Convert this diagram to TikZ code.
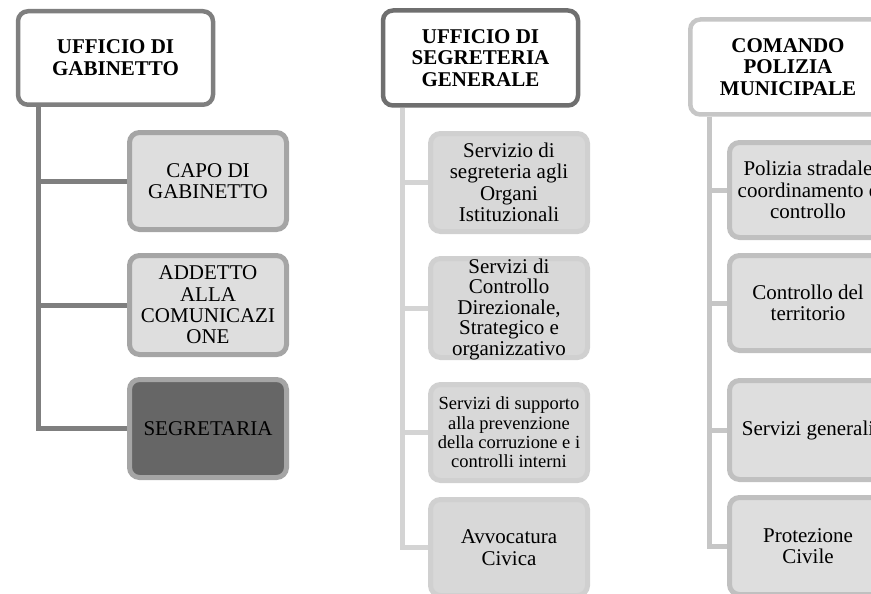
\documentclass[tikz,border=0pt]{standalone}
\usepackage{fontspec}
\setmainfont{Liberation Serif}
\begin{document}
\begin{tikzpicture}[x=1pt,y=-1pt,
  hdr/.style={draw, line width=4.5pt, rounded corners=10pt, fill=white,
    minimum width=195pt, minimum height=95pt, inner sep=0pt, align=center,
    font=\bfseries\fontsize{21}{21.8}\selectfont},
  unit/.style={draw, line width=5pt, rounded corners=10pt,
    minimum width=157pt, minimum height=97pt, inner sep=0pt, align=center,
    font=\fontsize{21}{21.4}\selectfont},
  label/.style={inner sep=0pt, align=center, font=\fontsize{21}{20.5}\selectfont},
  link/.style={line width=5pt, line join=miter}
]
\definecolor{hdrA}{HTML}{7F7F7F}
\definecolor{linkA}{HTML}{7F7F7F}
\definecolor{edgeA}{HTML}{A5A5A5}
\definecolor{fillA}{HTML}{DEDEDE}
\definecolor{darkA}{HTML}{666666}
\definecolor{hdrB}{HTML}{6F6F6F}
\definecolor{linkB}{HTML}{D4D4D4}
\definecolor{edgeB}{HTML}{D0D0D0}
\definecolor{fillB}{HTML}{D8D8D8}
\definecolor{hdrC}{HTML}{C6C6C6}
\definecolor{linkC}{HTML}{C6C6C6}
\definecolor{edgeC}{HTML}{C0C0C0}
\definecolor{fillC}{HTML}{DEDEDE}

\useasboundingbox (0,0) rectangle (871,594);
\clip (0,0) rectangle (871,594);

% --- Ufficio di Gabinetto ---
\node[hdr, draw=hdrA, minimum height=93.5pt] (ga) at (115.5,58) {UFFICIO DI\\GABINETTO};
\node[unit, draw=edgeA, fill=fillA] (ga1) at (208,181) {CAPO DI\\GABINETTO};
\node[unit, draw=edgeA, fill=fillA, minimum height=99pt] (ga2) at (208,305) {ADDETTO\\ALLA\\COMUNICAZI\\ONE};
\node[unit, draw=edgeA, fill=darkA, minimum height=98pt] (ga3) at (208,428.5) {SEGRETARIA};
\coordinate (gat) at (38,0);
\draw[link, draw=linkA] (ga.south -| gat) |- (ga3.west);
\draw[link, draw=linkA] (ga1.west -| gat) -- (ga1.west);
\draw[link, draw=linkA] (ga2.west -| gat) -- (ga2.west);

% --- Ufficio di Segreteria Generale ---
\node[hdr, draw=hdrB] (sg) at (480.5,58) {UFFICIO DI\\SEGRETERIA\\GENERALE};
\node[unit, draw=edgeB, fill=fillB, minimum height=98pt] (sg1) at (509,182.5) {Servizio di\\segreteria agli\\Organi\\Istituzionali};
\node[unit, draw=edgeB, fill=fillB, minimum height=99pt] (sg2) at (509,308) {};
\node[label] (sg2t) at (509,309) {Servizi di\\Controllo\\Direzionale,\\Strategico e\\organizzativo};
\node[unit, draw=edgeB, fill=fillB, minimum height=96pt, font=\fontsize{18.5}{19.3}\selectfont] (sg3) at (509,432.5) {Servizi di supporto\\alla prevenzione\\della corruzione e i\\controlli interni};
\node[unit, draw=edgeB, fill=fillB, minimum height=96pt] (sg4) at (509,547.5) {Avvocatura\\Civica};
\coordinate (sgt) at (402,0);
\draw[link, draw=linkB] (sg.south -| sgt) |- (sg4.west);
\draw[link, draw=linkB] (sg1.west -| sgt) -- (sg1.west);
\draw[link, draw=linkB] (sg2.west -| sgt) -- (sg2.west);
\draw[link, draw=linkB] (sg3.west -| sgt) -- (sg3.west);

% --- Comando Polizia Municipale ---
\node[hdr, draw=hdrC, minimum width=195.5pt] (pm) at (788,67) {COMANDO\\POLIZIA\\MUNICIPALE};
\node[unit, draw=edgeC, fill=fillC, minimum height=95pt] (pm1) at (808,190) {Polizia stradale\\coordinamento e\\controllo};
\node[unit, draw=edgeC, fill=fillC, minimum height=95pt] (pm2) at (808,303) {Controllo del\\territorio};
\node[unit, draw=edgeC, fill=fillC, minimum height=99pt] (pm3) at (808,430) {Servizi generali};
\node[unit, draw=edgeC, fill=fillC, minimum height=97pt] (pm4) at (808,546) {Protezione\\Civile};
\coordinate (pmt) at (709,0);
\draw[link, draw=linkC] (pm.south -| pmt) |- (pm4.west);
\draw[link, draw=linkC] (pm1.west -| pmt) -- (pm1.west);
\draw[link, draw=linkC] (pm2.west -| pmt) -- (pm2.west);
\draw[link, draw=linkC] (pm3.west -| pmt) -- (pm3.west);
\end{tikzpicture}
\end{document}
